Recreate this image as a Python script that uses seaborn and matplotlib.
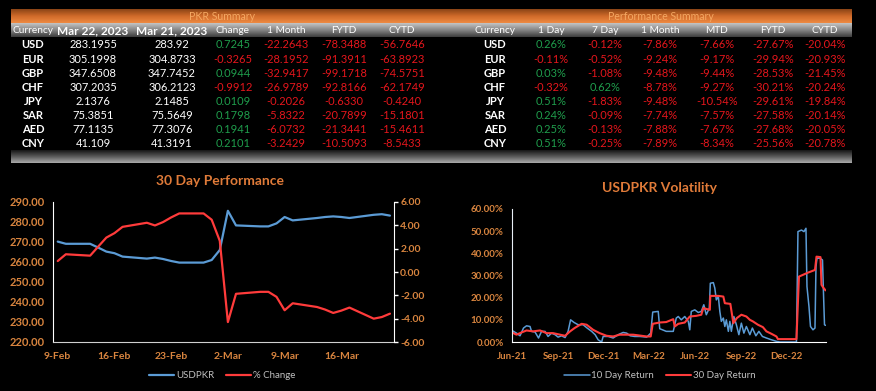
import numpy as np
import pandas as pd
import matplotlib
matplotlib.use("Agg")
import matplotlib.pyplot as plt
import matplotlib.dates as mdates
from matplotlib.colors import LinearSegmentedColormap
from matplotlib.ticker import FuncFormatter
import seaborn as sns

# ================== DATA ================== #
currencies = ["USD", "EUR", "GBP", "CHF", "JPY", "SAR", "AED", "CNY"]
rate_mar22 = [283.1955, 305.1998, 347.6508, 307.2035, 2.1376, 75.3851, 77.1135, 41.109]
rate_mar21 = [283.92, 304.8733, 347.7452, 306.2123, 2.1485, 75.5649, 77.3076, 41.3191]
pkr_change = [0.7245, -0.3265, 0.0944, -0.9912, 0.0109, 0.1798, 0.1941, 0.2101]
pkr_1m = [-22.2643, -28.1952, -32.9417, -26.9789, -0.2026, -5.8322, -6.0732, -3.2429]
pkr_fytd = [-78.3488, -91.3911, -99.1718, -92.8166, -0.6330, -20.7899, -21.3441, -10.5093]
pkr_cytd = [-56.7646, -63.8923, -74.5751, -62.1749, -0.4240, -15.1801, -15.4611, -8.5433]

perf_1d = [0.26, -0.11, 0.03, -0.32, 0.51, 0.24, 0.25, 0.51]
perf_7d = [-0.12, -0.52, -1.08, 0.62, -1.83, -0.09, -0.13, -0.25]
perf_1m = [-7.86, -9.24, -9.48, -8.78, -9.48, -7.74, -7.88, -7.89]
perf_mtd = [-7.66, -9.17, -9.44, -9.27, -10.54, -7.57, -7.67, -8.34]
perf_fytd = [-27.67, -29.94, -28.53, -30.21, -29.61, -27.58, -27.68, -25.56]
perf_cytd = [-20.04, -20.93, -21.45, -20.24, -19.84, -20.14, -20.05, -20.78]

perf_dates = ["2023-02-09", "2023-02-10", "2023-02-13", "2023-02-14", "2023-02-15",
              "2023-02-16", "2023-02-17", "2023-02-20", "2023-02-21", "2023-02-22",
              "2023-02-23", "2023-02-24", "2023-02-27", "2023-02-28", "2023-03-01",
              "2023-03-02", "2023-03-03", "2023-03-06", "2023-03-07", "2023-03-08",
              "2023-03-09", "2023-03-10", "2023-03-13", "2023-03-14", "2023-03-15",
              "2023-03-16", "2023-03-17", "2023-03-20", "2023-03-21", "2023-03-22"]
usdpkr = [270.2, 269.1, 269.1, 267.2, 265.2, 264.4, 262.7, 261.7, 262.2, 261.5,
          260.5, 259.7, 259.7, 261.0, 266.0, 285.6, 278.3, 277.8, 277.8, 279.3,
          282.5, 280.8, 282.0, 282.5, 282.8, 282.5, 282.0, 283.6, 283.9, 283.2]
pct_change = [0.94, 1.52, 1.40, 2.18, 2.95, 3.33, 3.87, 4.22, 3.99, 4.28,
              4.68, 5.02, 5.02, 4.48, 2.67, -4.29, -1.87, -1.70, -1.70, -2.13,
              -3.28, -2.68, -3.00, -3.22, -3.51, -3.31, -3.05, -4.00, -3.86, -3.57]

vol10_dates = ["2021-06-01", "2021-06-10", "2021-06-17", "2021-06-24", "2021-06-30",
               "2021-07-07", "2021-07-10", "2021-07-17", "2021-07-24", "2021-07-30",
               "2021-08-06", "2021-08-12", "2021-08-19", "2021-08-26", "2021-09-01",
               "2021-09-08", "2021-09-15", "2021-09-21", "2021-09-26", "2021-10-03",
               "2021-10-11", "2021-10-21", "2021-10-29", "2021-11-07", "2021-11-14",
               "2021-11-20", "2021-11-27", "2021-11-30", "2021-12-10", "2021-12-20",
               "2021-12-30", "2022-01-09", "2022-01-16", "2022-01-23", "2022-02-01",
               "2022-02-11", "2022-02-25", "2022-03-05", "2022-03-09", "2022-03-20",
               "2022-03-23", "2022-04-05", "2022-04-19", "2022-04-25", "2022-04-29",
               "2022-05-05", "2022-05-12", "2022-05-19", "2022-05-22", "2022-05-25",
               "2022-06-01", "2022-06-08", "2022-06-14", "2022-06-19", "2022-06-24",
               "2022-06-30", "2022-07-02", "2022-07-08", "2022-07-11", "2022-07-14",
               "2022-07-18", "2022-07-21", "2022-07-24", "2022-07-28", "2022-07-31",
               "2022-08-03", "2022-08-07", "2022-08-10", "2022-08-13", "2022-08-18",
               "2022-08-23", "2022-08-28", "2022-09-02", "2022-09-07", "2022-09-12",
               "2022-09-19", "2022-09-24", "2022-10-01", "2022-10-07", "2022-10-14",
               "2022-10-22", "2022-11-01", "2022-11-11", "2022-11-18", "2022-12-01",
               "2022-12-21", "2022-12-24", "2022-12-31", "2023-01-05", "2023-01-09",
               "2023-01-11", "2023-01-15", "2023-01-18", "2023-01-23", "2023-01-27",
               "2023-01-29", "2023-01-31", "2023-02-06", "2023-02-11", "2023-02-13",
               "2023-02-15", "2023-02-17"]
vol10 = [5.2, 4.0, 2.8, 6.3, 7.3, 7.0, 4.8, 4.5, 1.8, 4.8,
         4.8, 2.5, 4.0, 3.3, 2.2, 2.8, 2.0, 4.8, 10.0, 8.8,
         7.8, 7.8, 6.3, 4.8, 3.3, 1.0, 0.0, 2.5, 2.5, 1.8,
         3.3, 4.3, 4.0, 2.8, 2.5, 2.5, 2.2, 4.0, 13.5, 13.8,
         6.0, 4.8, 4.8, 10.8, 11.5, 10.0, 11.5, 9.3, 5.5, 13.8,
         14.5, 13.3, 13.8, 16.8, 12.3, 15.3, 26.5, 26.8, 24.3, 19.0,
         20.5, 13.8, 9.3, 10.8, 7.0, 10.0, 4.8, 9.3, 4.8, 11.5,
         7.8, 3.3, 8.5, 4.0, 7.0, 3.3, 6.3, 2.8, 4.8, 2.5,
         1.8, 1.0, 0.3, 0.0, 0.0, 0.0, 49.8, 50.5, 49.8, 51.3,
         25.0, 16.0, 7.0, 5.5, 6.3, 34.0, 37.8, 37.8, 37.0, 22.0,
         7.8, 7.5]

vol30_dates = ["2021-06-01", "2021-06-10", "2021-06-20", "2021-06-30", "2021-07-13",
               "2021-07-27", "2021-08-09", "2021-08-22", "2021-09-05", "2021-09-15",
               "2021-09-25", "2021-10-04", "2021-10-18", "2021-10-28", "2021-11-10",
               "2021-11-23", "2021-12-07", "2021-12-20", "2022-01-02", "2022-01-29",
               "2022-02-25", "2022-03-05", "2022-03-09", "2022-03-23", "2022-04-05",
               "2022-04-19", "2022-04-22", "2022-04-29", "2022-05-12", "2022-05-22",
               "2022-06-04", "2022-06-14", "2022-06-18", "2022-07-01", "2022-07-02",
               "2022-07-18", "2022-07-28", "2022-07-31", "2022-08-11", "2022-08-17",
               "2022-08-24", "2022-09-02", "2022-09-12", "2022-09-19", "2022-09-25",
               "2022-10-05", "2022-10-15", "2022-10-22", "2022-11-01", "2022-11-11",
               "2022-11-14", "2022-12-21", "2022-12-26", "2023-01-03", "2023-01-13",
               "2023-01-27", "2023-01-30", "2023-02-07", "2023-02-09", "2023-02-12",
               "2023-02-17"]
vol30 = [4.3, 3.3, 4.3, 5.2, 4.8, 5.2, 4.0, 4.0, 3.3, 2.8,
         4.8, 6.3, 8.2, 7.8, 5.5, 4.0, 2.8, 2.5, 3.3, 3.3,
         2.5, 2.5, 8.2, 8.8, 9.0, 10.3, 7.0, 8.2, 8.8, 11.5,
         11.8, 12.3, 15.3, 14.5, 20.8, 20.8, 20.5, 17.5, 17.2, 8.5,
         10.8, 12.3, 11.5, 10.0, 9.3, 7.8, 6.7, 4.8, 3.7, 2.5,
         1.3, 1.3, 29.5, 30.3, 31.3, 32.5, 38.5, 38.3, 25.8, 24.7,
         23.3]

# ================== STYLE ================== #
sns.set_style("dark")
plt.rcParams['font.family'] = ['Lato', 'DejaVu Sans']
plt.rcParams['axes.facecolor'] = 'black'
plt.rcParams['figure.facecolor'] = 'black'

ORANGE = '#E07B39'
TICK_ORANGE = '#D9853F'
BLUE = '#5B9BD5'
RED = '#FF3B3B'
GREEN = '#1F9D4C'
NEG_RED = '#E5161C'

W, H = 876, 391
fig = plt.figure(figsize=(W / 100, H / 100), dpi=100)

# ================== TABLES (pixel axes) ================== #
bg = fig.add_axes([0, 0, 1, 1])
bg.axis('off')


def band(x0, x1, y0, y1, colors):
    cmap = LinearSegmentedColormap.from_list('b', colors)
    grad = np.linspace(0, 1, 64).reshape(-1, 1)
    bg.imshow(grad, extent=(x0, x1, y1, y0), aspect='auto', cmap=cmap, zorder=1)


band(11, 852, 9, 23, ['#8a4416', '#d06a2a', '#ee8a42'])
band(11, 852, 23, 37, ['#c4c4c4', '#858585', '#3c3c3c'])
band(11, 852, 150, 163, ['#161616', '#5a5a5a', '#aaaaaa'])
bg.set_xlim(0, W)
bg.set_ylim(H, 0)

bg.text(222, 16, "PKR Summary", color='#F5A862', fontsize=7.6, ha='center', va='center', zorder=3)
bg.text(661, 16, "Performance Summary", color='#F5A862', fontsize=7.6, ha='center', va='center', zorder=3)

hdr_y = 30.5
left_cols = [33, 93, 172, 233, 286, 344, 402]
left_hdr = ["Currency", "Mar 22, 2023", "Mar 21, 2023", "Change", "1 Month", "FYTD", "CYTD"]
for x, h in zip(left_cols, left_hdr):
    big = "2023" in h
    bg.text(x, hdr_y, h, color='white', fontsize=8.6 if big else 7.3,
            fontweight='bold' if big else 'normal', ha='center', va='center', zorder=3)

right_cols = [495, 551, 605, 660, 717, 773, 825]
right_hdr = ["Currency", "1 Day", "7 Day", "1 Month", "MTD", "FYTD", "CYTD"]
for x, h in zip(right_cols, right_hdr):
    bg.text(x, hdr_y, h, color='white', fontsize=7.3, ha='center', va='center', zorder=3)


def col_color(v):
    return GREEN if v > 0 else NEG_RED


FS = 8
for i, cur in enumerate(currencies):
    y = 45 + i * 14.1
    bg.text(left_cols[0], y, cur, color='white', fontsize=FS, fontweight='bold', ha='center', va='center')
    bg.text(left_cols[1], y, str(rate_mar22[i]), color='white', fontsize=FS, ha='center', va='center')
    bg.text(left_cols[2], y, str(rate_mar21[i]), color='white', fontsize=FS, ha='center', va='center')
    for x, vals in zip(left_cols[3:], [pkr_change, pkr_1m, pkr_fytd, pkr_cytd]):
        bg.text(x, y, f"{vals[i]:.4f}", color=col_color(vals[i]), fontsize=FS, ha='center', va='center')

    bg.text(right_cols[0], y, cur, color='white', fontsize=FS, fontweight='bold', ha='center', va='center')
    for x, vals in zip(right_cols[1:], [perf_1d, perf_7d, perf_1m, perf_mtd, perf_fytd, perf_cytd]):
        bg.text(x, y, f"{vals[i]:.2f}%", color=col_color(vals[i]), fontsize=FS, ha='center', va='center')

# ================== CHART 1: 30 Day Performance ================== #
perf = pd.DataFrame({"date": pd.to_datetime(perf_dates), "usdpkr": usdpkr, "pct": pct_change})

ax1 = fig.add_axes([53 / W, 1 - 342 / H, 341 / W, 140 / H])
ax1.set_facecolor('black')
sns.lineplot(data=perf, x="date", y="usdpkr", ax=ax1, color=BLUE, lw=1.6, label="USDPKR", legend=False)
ax2 = ax1.twinx()
sns.lineplot(data=perf, x="date", y="pct", ax=ax2, color=RED, lw=1.6, label="% Change", legend=False)

ax1.set_xlim(pd.Timestamp("2023-02-08 10:00"), pd.Timestamp("2023-03-22 12:00"))
ax1.set_ylim(220, 290)
ax1.set_yticks(np.arange(220, 291, 10))
ax2.set_ylim(-6, 6)
ax2.set_yticks(np.arange(-6, 6.1, 2))
ax1.yaxis.set_major_formatter(FuncFormatter(lambda v, p: f"{v:.2f}"))
ax2.yaxis.set_major_formatter(FuncFormatter(lambda v, p: f"{v:.2f}"))
ax1.set_xticks(pd.date_range("2023-02-09", periods=6, freq="7D"))
ax1.xaxis.set_major_formatter(FuncFormatter(lambda v, p: f"{mdates.num2date(v).day}-{mdates.num2date(v):%b}"))

for a in (ax1, ax2):
    a.set_xlabel("")
    a.set_ylabel("")
    a.grid(False)
    for s in a.spines.values():
        s.set_visible(False)
ax1.spines['left'].set_visible(True)
ax1.spines['left'].set_color('white')
ax1.spines['bottom'].set_visible(True)
ax1.spines['bottom'].set_color('#d0d0d0')
ax2.spines['right'].set_visible(True)
ax2.spines['right'].set_color('white')

ax1.tick_params(axis='y', length=0, pad=6, labelsize=8, labelcolor=TICK_ORANGE)
ax1.tick_params(axis='x', length=0, pad=7, labelsize=7.5, labelcolor=TICK_ORANGE)
ax2.tick_params(axis='y', length=3, width=1, color='white', direction='out', pad=1.5,
                labelsize=7.5, labelcolor=TICK_ORANGE)
for lab in ax1.get_xticklabels() + ax1.get_yticklabels() + ax2.get_yticklabels():
    lab.set_fontweight('bold')

fig.text(220 / W, 1 - 181 / H, "30 Day Performance", color=ORANGE, fontsize=10,
         fontweight='bold', ha='center', va='center')
fig.legend(handles=[ax1.get_lines()[0], ax2.get_lines()[0]], labels=["USDPKR", "% Change"],
           loc='center', bbox_to_anchor=(222 / W, 1 - 376 / H), ncol=2, frameon=False,
           fontsize=7, labelcolor='#bfbfbf', handlelength=2.6, handletextpad=0.2, columnspacing=1.2)

# ================== CHART 2: USDPKR Volatility ================== #
v10 = pd.DataFrame({"date": pd.to_datetime(vol10_dates), "ret": vol10})
v30 = pd.DataFrame({"date": pd.to_datetime(vol30_dates), "ret": vol30})

ax3 = fig.add_axes([512 / W, 1 - 342 / H, 314 / W, 133 / H])
ax3.set_facecolor('black')
sns.lineplot(data=v10, x="date", y="ret", ax=ax3, color=BLUE, lw=1.1, label="10 Day Return", legend=False)
sns.lineplot(data=v30, x="date", y="ret", ax=ax3, color=RED, lw=1.5, label="30 Day Return", legend=False)
ax3.set_xlim(pd.Timestamp("2021-06-01"), pd.Timestamp("2023-02-18"))
ax3.set_ylim(0, 60)
ax3.set_yticks(np.arange(0, 61, 10))
ax3.yaxis.set_major_formatter(FuncFormatter(lambda v, p: f"{v:.2f}%"))
ax3.xaxis.set_major_locator(mdates.MonthLocator(bymonth=[3, 6, 9, 12]))
ax3.xaxis.set_major_formatter(mdates.DateFormatter("%b-%y"))
ax3.set_xlabel("")
ax3.set_ylabel("")
ax3.grid(False)
for s in ax3.spines.values():
    s.set_visible(False)
ax3.spines['left'].set_visible(True)
ax3.spines['left'].set_color('#e8eef5')
ax3.spines['bottom'].set_visible(True)
ax3.spines['bottom'].set_color('white')
ax3.tick_params(axis='y', length=0, pad=6, labelsize=7, labelcolor=TICK_ORANGE)
ax3.tick_params(axis='x', length=0, pad=7, labelsize=7, labelcolor=TICK_ORANGE)
for lab in ax3.get_xticklabels() + ax3.get_yticklabels():
    lab.set_fontweight('bold')

fig.text(659 / W, 1 - 188 / H, "USDPKR Volatility", color=ORANGE, fontsize=10,
         fontweight='bold', ha='center', va='center')
fig.legend(handles=ax3.get_lines()[:2], labels=["10 Day Return", "30 Day Return"],
           loc='center', bbox_to_anchor=(660 / W, 1 - 376 / H), ncol=2, frameon=False,
           fontsize=7, labelcolor='#bfbfbf', handlelength=2.6, handletextpad=0.2, columnspacing=1.2)

fig.savefig("out.png", dpi=100, facecolor='black')
